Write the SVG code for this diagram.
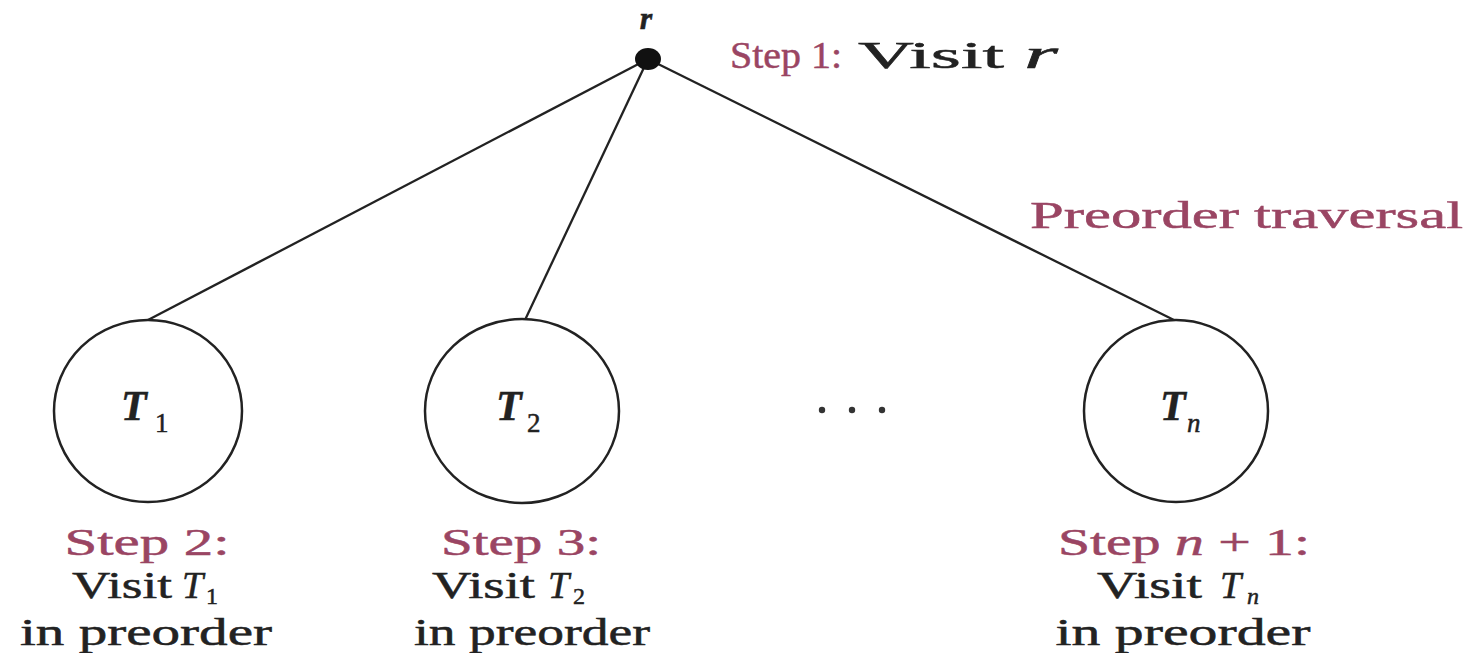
<svg xmlns="http://www.w3.org/2000/svg" width="1482" height="653" viewBox="0 0 1482 653">
<style>
.t{font-family:"Liberation Serif","Times New Roman",serif;fill:#222;stroke:#222;stroke-width:0.5}
.m{font-family:"Liberation Serif","Times New Roman",serif;fill:#9a4563;stroke:#9a4563;stroke-width:0.5}
.it{font-style:italic;font-weight:bold}
.lbl{font-size:38px}
.sub{font-size:24px}
.edge{stroke:#222;stroke-width:2.3;fill:none}
.tree{stroke:#222;stroke-width:2.5;fill:#fff}
</style>
<rect width="1482" height="653" fill="#fff"/>
<g id="connectors">
<line class="edge" x1="648" y1="59" x2="148" y2="320"/>
<line class="edge" x1="648" y1="59" x2="525" y2="320"/>
<line class="edge" x1="648" y1="59" x2="1178" y2="322"/>
</g>
<g id="root">
<ellipse cx="648" cy="59" rx="13" ry="11" fill="#111"/>
<text class="t it" x="646" y="29" font-size="32" text-anchor="middle">r</text>
<text class="m" x="730" y="68" font-size="38" textLength="112" lengthAdjust="spacingAndGlyphs">Step 1:</text>
<text class="t" x="858" y="68" font-size="38" textLength="146" lengthAdjust="spacingAndGlyphs">Visit</text>
<text class="t" x="1024" y="68" font-size="40" font-style="italic" textLength="34" lengthAdjust="spacingAndGlyphs">r</text>
</g>
<g id="caption">
<text class="m" x="1030" y="228" font-size="38" textLength="433" lengthAdjust="spacingAndGlyphs">Preorder traversal</text>
</g>
<g id="T1">
<ellipse class="tree" cx="148" cy="411" rx="94" ry="91"/>
<text class="t it" x="121" y="420" font-size="42">T</text>
<text class="t" x="155" y="432" font-size="27">1</text>
<text class="m lbl" x="147" y="555" text-anchor="middle" textLength="165" lengthAdjust="spacingAndGlyphs">Step 2:</text>
<text class="t lbl" x="72" y="598" textLength="100" lengthAdjust="spacingAndGlyphs">Visit</text>
<text class="t lbl" font-style="italic" x="182" y="598">T</text>
<text class="t sub" x="206" y="604">1</text>
<text class="t lbl" x="146" y="645" text-anchor="middle" textLength="252" lengthAdjust="spacingAndGlyphs">in preorder</text>
</g>
<g id="T2">
<ellipse class="tree" cx="522" cy="411" rx="97" ry="92"/>
<text class="t it" x="496" y="420" font-size="42">T</text>
<text class="t" x="527" y="432" font-size="27">2</text>
<text class="m lbl" x="521" y="555" text-anchor="middle" textLength="160" lengthAdjust="spacingAndGlyphs">Step 3:</text>
<text class="t lbl" x="432" y="598" textLength="103" lengthAdjust="spacingAndGlyphs">Visit</text>
<text class="t lbl" font-style="italic" x="548" y="598">T</text>
<text class="t sub" x="573" y="604">2</text>
<text class="t lbl" x="532" y="645" text-anchor="middle" textLength="236" lengthAdjust="spacingAndGlyphs">in preorder</text>
</g>
<g id="ellipsis">
<circle cx="822" cy="410" r="3.2" fill="#333"/>
<circle cx="852" cy="410" r="3.2" fill="#333"/>
<circle cx="882" cy="410" r="3.2" fill="#333"/>
</g>
<g id="Tn">
<ellipse class="tree" cx="1176" cy="411" rx="92" ry="91"/>
<text class="t it" x="1160" y="420" font-size="42">T</text>
<text class="t" x="1187" y="432" font-size="27" font-style="italic">n</text>
<text class="m lbl" x="1058" y="555" textLength="252" lengthAdjust="spacingAndGlyphs">Step <tspan font-style="italic">n</tspan> + 1:</text>
<text class="t lbl" x="1097" y="598" textLength="105" lengthAdjust="spacingAndGlyphs">Visit</text>
<text class="t lbl" font-style="italic" x="1220" y="598">T</text>
<text class="t sub" font-style="italic" x="1247" y="604">n</text>
<text class="t lbl" x="1183" y="645" text-anchor="middle" textLength="255" lengthAdjust="spacingAndGlyphs">in preorder</text>
</g>
</svg>
